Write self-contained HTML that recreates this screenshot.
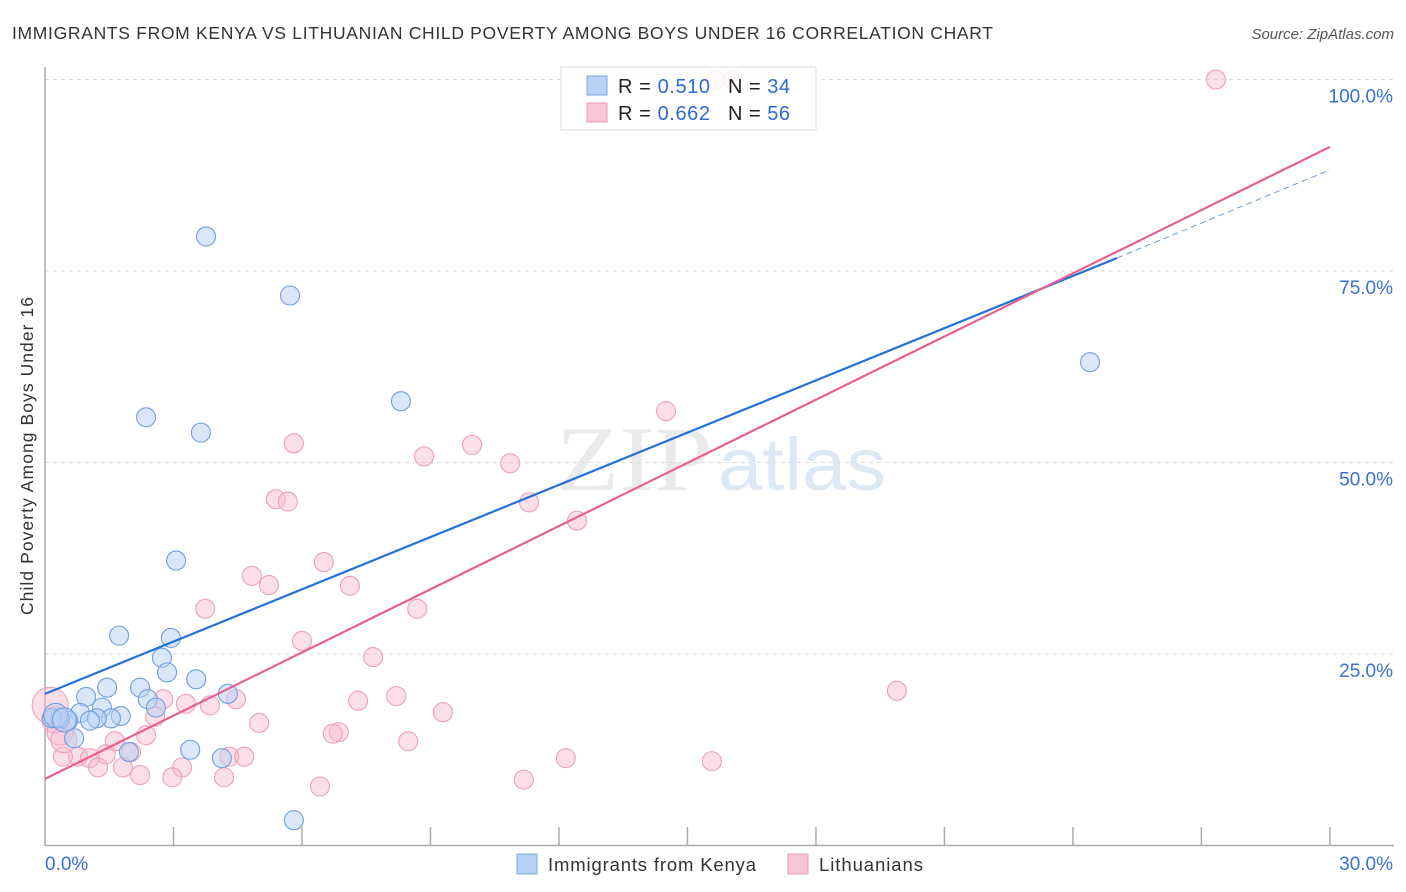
<!DOCTYPE html>
<html><head><meta charset="utf-8"><style>
body{margin:0;background:#fff;font-family:"Liberation Sans",sans-serif}
svg{display:block}
</style></head><body>
<svg id="c" width="1406" height="892">
<text x="12" y="39" font-size="17.5" fill="#333" textLength="981" lengthAdjust="spacing">IMMIGRANTS FROM KENYA VS LITHUANIAN CHILD POVERTY AMONG BOYS UNDER 16 CORRELATION CHART</text>
<text x="1394" y="39" font-size="15" fill="#555" font-style="italic" text-anchor="end">Source: ZipAtlas.com</text>
<text transform="translate(33,615) rotate(-90)" font-size="17.5" fill="#333" textLength="318" lengthAdjust="spacing">Child Poverty Among Boys Under 16</text>
<g id="wm"><text x="556" y="490" font-size="92" fill="#ddd" font-family="Liberation Serif,serif" opacity="0.6" textLength="156" lengthAdjust="spacingAndGlyphs">ZIP</text><text x="718" y="490" font-size="74" fill="#c9d9ef" opacity="0.6" textLength="168" lengthAdjust="spacingAndGlyphs">atlas</text></g>
<g id="grid"></g><g id="axes"></g><g id="pts"></g><g id="lines"></g>
<g>
<rect x="561" y="67" width="255" height="63" fill="#fff" fill-opacity="0.85" stroke="#ddd"/>
<rect x="587" y="76" width="20" height="19" fill="#b8d2f5" stroke="#7aa7e0"/>
<rect x="587" y="103" width="20" height="19" fill="#f8c6d6" stroke="#eb9ab5"/>
<text x="618" y="93" font-size="20" fill="#222" textLength="92" lengthAdjust="spacing">R = <tspan fill="#2f6ad0">0.510</tspan></text>
<text x="728" y="93" font-size="20" fill="#222" textLength="62" lengthAdjust="spacing">N = <tspan fill="#2f6ad0">34</tspan></text>
<text x="618" y="120" font-size="20" fill="#222" textLength="92" lengthAdjust="spacing">R = <tspan fill="#2f6ad0">0.662</tspan></text>
<text x="728" y="120" font-size="20" fill="#222" textLength="62" lengthAdjust="spacing">N = <tspan fill="#2f6ad0">56</tspan></text>
</g>
<g>
<rect x="517" y="854" width="20" height="20" fill="#b8d2f5" stroke="#7aa7e0"/>
<text x="548" y="871" font-size="18.5" fill="#333" textLength="208" lengthAdjust="spacing">Immigrants from Kenya</text>
<rect x="788" y="854" width="20" height="20" fill="#f8c6d6" stroke="#eb9ab5"/>
<text x="819" y="871" font-size="18.5" fill="#333" textLength="104" lengthAdjust="spacing">Lithuanians</text>
</g>
</svg>
<script>
const blueX=[3.76,5.72,2.36,3.64,8.31,3.06,1.73,2.94,2.73,2.85,3.53,4.27,1.45,2.22,0.96,2.40,2.59,1.33,0.82,1.77,1.54,1.21,1.05,0.54,0.35,0.16,0.68,1.96,3.39,4.13,5.81,24.4,0.25,0.45];
const blueY=[79.5,71.8,55.9,53.9,58.0,37.2,27.4,27.1,24.5,22.6,21.7,19.8,20.6,20.6,19.4,19.1,18.0,18.0,17.3,16.9,16.6,16.6,16.3,16.3,16.6,16.6,14.0,12.2,12.5,11.4,3.3,63.1,17.0,16.4];
const pinkX=[27.34,14.5,5.81,9.97,8.85,10.86,5.39,5.67,11.3,12.42,4.83,6.51,7.12,5.23,3.74,8.69,6.0,7.66,19.89,2.76,4.46,3.29,3.85,7.31,8.2,2.57,9.29,5.0,6.86,6.72,2.36,1.63,8.48,4.3,4.65,2.01,1.42,0.77,0.42,1.05,12.16,15.57,1.24,1.82,3.2,2.22,2.97,4.18,11.18,6.42,0.12,0.23,0.35,0.44,15.64,16.06];
const pinkY=[100,56.7,52.5,52.3,50.8,49.9,45.2,44.9,44.8,42.4,35.2,37.0,33.9,34.0,30.9,30.9,26.7,24.6,20.2,19.1,19.1,18.5,18.3,18.9,19.5,16.8,17.4,16.0,14.8,14.6,14.4,13.6,13.6,11.6,11.6,12.2,11.9,11.6,11.6,11.4,11.4,11.0,10.2,10.2,10.2,9.2,8.9,8.9,8.6,7.7,18.3,16.4,14.8,13.8,100,100];
const blueLine=[19.8,76.7,88.2]; // y at x=0, at solid end, at 30
const blueSolidEnd=25.03;
const pinkLine=[8.7,91.2];
const yTicks=[25,50,75,100];
const yTickLabels=["25.0%","50.0%","75.0%","100.0%"];
const xTickCount=10;

const X=v=>45+v*42.83, Y=v=>845.5-v*7.66;
const NS="http://www.w3.org/2000/svg";
function mk(tag,attrs,parent){const e=document.createElementNS(NS,tag);for(const k in attrs)e.setAttribute(k,attrs[k]);document.getElementById(parent).appendChild(e);return e;}
yTicks.forEach((t,i)=>{
 const g=mk('line',{x1:45,x2:1394,y1:Y(t),y2:Y(t),stroke:'#ddd','stroke-dasharray':'4,4'},'grid');
 
 
 const l=mk('text',{x:1393,y:Y(t)+23,'font-size':19,fill:'#3b6fd4','text-anchor':'end'},'grid');
 l.textContent=yTickLabels[i];
 
 
});
let a=mk('line',{x1:45,x2:45,y1:67,y2:846,stroke:'#aaa','stroke-width':1.5},'axes');


a=mk('line',{x1:45,x2:1394,y1:845.5,y2:845.5,stroke:'#aaa','stroke-width':1.5},'axes');


for(let i=1;i<=xTickCount;i++){const t=mk('line',{x1:X(i*3),x2:X(i*3),y1:827,y2:845,stroke:'#aaa','stroke-width':1.5},'axes');
 
 }
let t0=mk('text',{x:45,y:870,'font-size':19,fill:'#3b6fd4'},'axes');t0.textContent='0.0%';


t0=mk('text',{x:1393,y:870,'font-size':19,fill:'#3b6fd4','text-anchor':'end'},'axes');t0.textContent='30.0%';


pinkX.forEach((x,i)=>{const r=i===50?18:(i>50&&i<54?13:9.5);
 const c=mk('circle',{cx:X(x),cy:Y(pinkY[i]),r:r,fill:'#f7b8cc','fill-opacity':0.45,stroke:'#eda0ba','stroke-width':1.1},'pts');
 
 });
blueX.forEach((x,i)=>{const r=i>=32?12:9.5;
 const c=mk('circle',{cx:X(x),cy:Y(blueY[i]),r:r,fill:'#b5cff3','fill-opacity':0.5,stroke:'#6f9edf','stroke-width':1.1},'pts');
 
 });
let L=mk('line',{x1:X(0),y1:Y(blueLine[0]),x2:X(blueSolidEnd),y2:Y(blueLine[1]),stroke:'#2370d8','stroke-width':2.2},'lines');


L=mk('line',{x1:X(blueSolidEnd),y1:Y(blueLine[1]),x2:X(30),y2:Y(blueLine[2]),stroke:'#6d9ad8','stroke-width':1,'stroke-dasharray':'6,4'},'lines');


L=mk('line',{x1:X(0),y1:Y(pinkLine[0]),x2:X(30),y2:Y(pinkLine[1]),stroke:'#e8608e','stroke-width':2.2},'lines');


</script>
</body></html>
